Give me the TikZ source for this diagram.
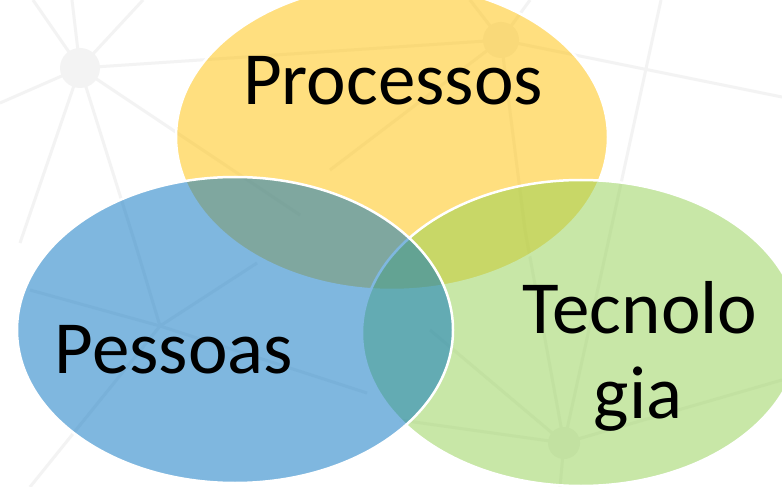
\documentclass[tikz,border=0pt]{standalone}
\usepackage{fontspec}
\setmainfont{Carlito}
\definecolor{cgold}{RGB}{255,192,0}
\definecolor{cblue}{RGB}{0,112,192}
\definecolor{cgreen}{RGB}{146,208,80}
\definecolor{netgray}{RGB}{243,243,243}
\begin{document}
\begin{tikzpicture}[x=1bp,y=-1bp,
  bgline/.style={draw=netgray,line width=3bp},
  bghub/.style={fill=netgray},
  venn/.style={fill opacity=0.5,draw=white,draw opacity=1,line width=2.5bp},
  label/.style={font=\fontsize{75bp}{85bp}\selectfont,anchor=base,inner sep=0pt}]
\useasboundingbox (0,0) rectangle (782,487);
\fill[white] (0,0) rectangle (782,487);
% faint network background
\coordinate (h1) at (80,68);
\coordinate (h2) at (501,40);
\coordinate (h3) at (564,443);
\coordinate (h4) at (160,326);
\draw[bgline] (h1) -- (33,0);
\draw[bgline] (h1) -- (72,0);
\draw[bgline] (h1) -- (143,0);
\draw[bgline] (h1) -- (h2);
\draw[bgline] (h1) -- (0,103);
\draw[bgline] (h1) -- (20,243);
\draw[bgline] (h1) -- (135,243) -- (h4);
\draw[bgline] (h1) -- (300,215);
\draw[bgline] (h2) -- (470,0);
\draw[bgline] (h2) -- (530,0);
\draw[bgline] (h2) -- (782,97);
\draw[bgline] (h2) -- (330,170);
\draw[bgline] (h2) -- (525,230) -- (h3);
\draw[bgline] (661,0) -- (608,243) -- (h3);
\draw[bgline] (h4) -- (30,290);
\draw[bgline] (h4) -- (257,263);
\draw[bgline] (h4) -- (367,393);
\draw[bgline] (h4) -- (30,487);
\draw[bgline] (h3) -- (400,420);
\draw[bgline] (h3) -- (782,380);
\draw[bgline] (h3) -- (560,487);
\draw[bgline] (h3) -- (430,330);
\fill[bghub] (h1) circle[radius=20];
\fill[bghub] (h2) circle[radius=18];
\fill[bghub] (h3) circle[radius=16];
% Venn ellipses
\path[venn,fill=cgold] (392,137) ellipse[x radius=216,y radius=153];
\path[venn,fill=cgreen] (581,333) ellipse[x radius=219,y radius=153];
\path[venn,fill=cblue] (235,330) ellipse[x radius=218,y radius=153];
% labels
\node[label] (proc) at (393,105) {Processos};
\node[label] (pess) at (174,373) {Pessoas};
\node[label] (tec1) at (640,333) {Tecnolo};
\node[label] (tec2) at (638,418) {gia};
\end{tikzpicture}
\end{document}
